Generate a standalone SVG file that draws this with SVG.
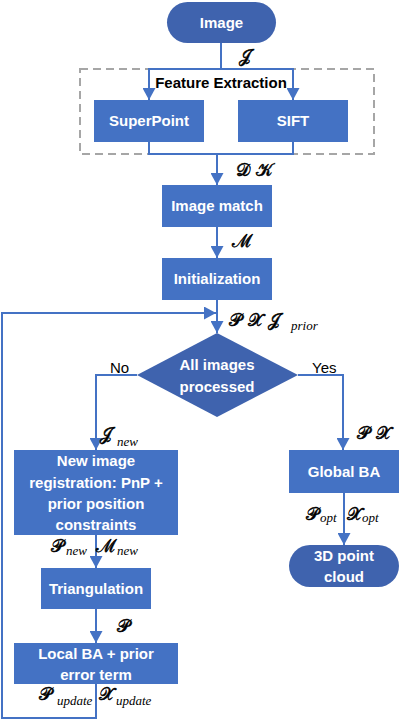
<svg xmlns="http://www.w3.org/2000/svg" width="400" height="721" viewBox="0 0 400 721">
<defs>
<marker id="ah" markerUnits="userSpaceOnUse" markerWidth="13" markerHeight="13" refX="12" refY="6.5" orient="auto">
<path d="M0,0 L12,6.5 L0,13 z" fill="#4472C4"/>
</marker>
<style>
.box{fill:#4472C4}
.term{fill:#3F63AE}
.t{font-family:"Liberation Sans",Arial,sans-serif;font-weight:bold;font-size:15px;fill:#fff;text-anchor:middle}
.lbl{font-family:"Liberation Sans",Arial,sans-serif;font-size:15px;fill:#000}
.m{font-family:"DejaVu Serif","Liberation Serif",serif;font-size:18px;fill:#000;stroke:#000;stroke-width:0.5}
.s{font-family:"Liberation Serif",serif;font-style:italic;font-size:13px;fill:#000}
.c{fill:none;stroke:#4472C4;stroke-width:2}
.ca{fill:none;stroke:#4472C4;stroke-width:2;marker-end:url(#ah)}
</style>
</defs>
<rect width="400" height="721" fill="#fff"/>
<g id="feature-extraction">
<rect x="80" y="69" width="294" height="85" fill="none" stroke="#A6A6A6" stroke-width="2" stroke-dasharray="8,5"/>
<text x="221" y="88" style="font-family:'Liberation Sans',Arial,sans-serif;font-weight:bold;font-size:15px;fill:#000;text-anchor:middle">Feature Extraction</text>
</g>
<g id="connectors">
<path class="c" d="M221,43 V69"/>
<path class="ca" d="M221,69 H149 V100"/>
<path class="ca" d="M221,69 H293 V100"/>
<path class="c" d="M149,142 V154 H293 V142"/>
<path class="ca" d="M217,154 V185"/>
<path class="ca" d="M217,227 V258"/>
<path class="ca" d="M217,300 V333"/>
<path class="ca" d="M137,375 H96 V450"/>
<path class="ca" d="M298,375 H343 V450"/>
<path class="ca" d="M344,493 V545"/>
<path class="ca" d="M96,535 V568"/>
<path class="ca" d="M96,609 V643"/>
<path class="ca" d="M96,684 V718 H2 V313 H216"/>
</g>
<g id="image">
<rect class="term" x="167" y="2" width="109" height="41" rx="20.5"/>
<text class="t" x="221.5" y="28">Image</text>
</g>
<g id="superpoint">
<rect class="box" x="94" y="100" width="110" height="42"/>
<text class="t" x="149" y="126">SuperPoint</text>
</g>
<g id="sift">
<rect class="box" x="238" y="100" width="110" height="42"/>
<text class="t" x="293" y="126">SIFT</text>
</g>
<g id="image-match">
<rect class="box" x="162" y="185" width="110" height="42"/>
<text class="t" x="217" y="211">Image match</text>
</g>
<g id="initialization">
<rect class="box" x="162" y="258" width="110" height="42"/>
<text class="t" x="217" y="284">Initialization</text>
</g>
<g id="decision">
<polygon class="term" points="217,333 298,375 217,417 137,375"/>
<text class="t" x="217" y="370">All images</text>
<text class="t" x="217" y="392">processed</text>
</g>
<g id="new-image-registration">
<rect class="box" x="14" y="450" width="164" height="85"/>
<text class="t" x="96" y="466">New image</text>
<text class="t" x="96" y="488">registration: PnP +</text>
<text class="t" x="96" y="509">prior position</text>
<text class="t" x="96" y="530">constraints</text>
</g>
<g id="triangulation">
<rect class="box" x="41" y="568" width="110" height="41"/>
<text class="t" x="96" y="594">Triangulation</text>
</g>
<g id="local-ba">
<rect class="box" x="14" y="643" width="164" height="41"/>
<text class="t" x="96" y="659">Local BA + prior</text>
<text class="t" x="96" y="680">error term</text>
</g>
<g id="global-ba">
<rect class="box" x="289" y="450" width="110" height="43"/>
<text class="t" x="344" y="477">Global BA</text>
</g>
<g id="point-cloud">
<rect class="term" x="289" y="545" width="110" height="42" rx="21"/>
<text class="t" x="344" y="561">3D point</text>
<text class="t" x="344" y="582">cloud</text>
</g>
<g id="labels">
<text class="lbl" x="110" y="373">No</text>
<text class="lbl" x="312" y="373">Yes</text>
<text class="m" x="239" y="62">𝒥</text>
<text class="m" x="236" y="176">𝒟  𝒦</text>
<text class="m" x="232" y="247">ℳ</text>
<text class="m" x="229" y="326">𝒫 𝒳  𝒥</text><text class="s" x="291" y="330">prior</text>
<text class="m" x="100" y="440">𝒥</text><text class="s" x="117" y="446">new</text>
<text class="m" x="357" y="439">𝒫 𝒳</text>
<text class="m" x="306" y="520">𝒫</text><text class="s" x="320" y="522">opt</text>
<text class="m" x="347" y="520">𝒳</text><text class="s" x="362" y="522">opt</text>
<text class="m" x="51" y="552">𝒫</text><text class="s" x="66" y="555">new</text>
<text class="m" x="96" y="552">ℳ</text><text class="s" x="117" y="555">new</text>
<text class="m" x="117" y="632">𝒫</text>
<text class="m" x="39" y="700">𝒫</text><text class="s" x="57" y="705">update</text>
<text class="m" x="99" y="700">𝒳</text><text class="s" x="116" y="705">update</text>
</g>
</svg>
